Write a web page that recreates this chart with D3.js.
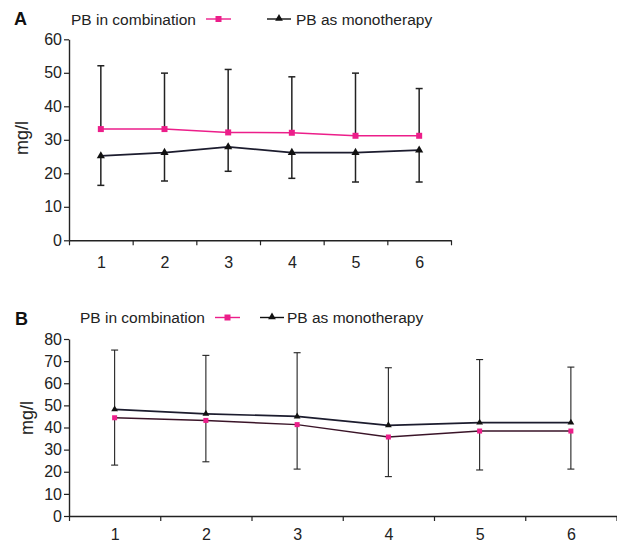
<!DOCTYPE html>
<html><head><meta charset="utf-8">
<script src="https://cdn.jsdelivr.net/npm/d3@7"></script>
<style>
html,body{margin:0;padding:0;background:#fff;}
svg{display:block;font-family:"Liberation Sans",Arial,Helvetica,sans-serif;}
</style></head>
<body><svg id="c" width="617" height="545"></svg>
<script>
// ---- data ----
const categories = [1, 2, 3, 4, 5, 6];
const seriesNames = ["PB in combination", "PB as monotherapy"];
// Panel A
const aCombination = [33.2, 33.2, 32.2, 32.1, 31.2, 31.2];
const aCombinationUpper = [52.1, 49.9, 51.0, 48.8, 49.9, 45.3];
const aMonotherapy = [25.2, 26.2, 27.9, 26.2, 26.2, 26.9];
const aMonotherapyLower = [16.4, 17.7, 20.6, 18.5, 17.4, 17.4];
const aYTicks = [0, 10, 20, 30, 40, 50, 60];
// Panel B
const bCombination = [44.4, 43.2, 41.3, 35.7, 38.4, 38.4];
const bCombinationLower = [23.0, 24.5, 21.2, 17.8, 20.8, 21.2];
const bMonotherapy = [48.2, 46.2, 45.0, 41.0, 42.2, 42.2];
const bMonotherapyUpper = [75.0, 72.6, 73.8, 67.0, 70.7, 67.3];
const bYTicks = [0, 10, 20, 30, 40, 50, 60, 70, 80];

const PINK = "#ec1e8a";
const DARK = "#1c1c2e";
const svg = d3.select("#c");

function panel(cfg) {
  const g = svg.append("g");
  const x = d3.scaleLinear().domain([0.5, 6.5]).range([cfg.x0, cfg.x1]);
  const y = d3.scaleLinear().domain([0, cfg.ymax]).range([cfg.yBottom, cfg.yTop]);

  // y axis
  const ya = g.append("g").attr("transform", `translate(${cfg.x0},0)`)
    .call(d3.axisLeft(y).tickValues(cfg.yTicks).tickSize(5).tickPadding(2).tickSizeOuter(0));
  ya.select(".domain").attr("stroke", "#222").attr("stroke-width", 1.4);
  ya.selectAll(".tick line").attr("stroke", "#222").attr("stroke-width", 1.2);
  ya.selectAll(".tick text").attr("font-size", cfg.fs).attr("fill", "#222")
    .attr("font-family", "Liberation Sans, Arial, sans-serif");

  // x axis: boundary ticks
  const bounds = d3.range(0.5, 6.51, 1);
  const xa = g.append("g").attr("transform", `translate(0,${cfg.yBottom})`)
    .call(d3.axisBottom(x).tickValues(bounds).tickSize(5).tickFormat("").tickSizeOuter(0));
  xa.select(".domain").attr("stroke", "#222").attr("stroke-width", 1.4);
  xa.selectAll(".tick line").attr("stroke", "#222").attr("stroke-width", 1.2);
  // x labels
  const xl = g.append("g").attr("transform", `translate(0,${cfg.yBottom})`)
    .call(d3.axisBottom(x).tickValues(categories).tickSize(0).tickPadding(cfg.xPad).tickFormat(d3.format("d")));
  xl.select(".domain").remove();
  xl.selectAll(".tick text").attr("font-size", cfg.fs).attr("fill", "#222")
    .attr("font-family", "Liberation Sans, Arial, sans-serif");

  // y label
  g.append("text").attr("transform", `translate(${cfg.ylabX},${cfg.ylabY}) rotate(-90)`)
    .attr("text-anchor", "middle").attr("font-size", 18).attr("fill", "#222").text("mg/l");

  // panel letter
  g.append("text").attr("x", cfg.letterX).attr("y", cfg.letterY).attr("font-weight", "bold")
    .attr("font-size", 18).attr("fill", "#111").text(cfg.letter);

  // error bars
  const cap = 3.5;
  function errBars(vals, ends) {
    const eg = g.append("g").attr("stroke", "#222").attr("stroke-width", cfg.ew);
    categories.forEach((c, i) => {
      const cx = x(c);
      eg.append("line").attr("x1", cx).attr("x2", cx).attr("y1", y(vals[i])).attr("y2", y(ends[i]));
      eg.append("line").attr("x1", cx - cap).attr("x2", cx + cap).attr("y1", y(ends[i])).attr("y2", y(ends[i]));
    });
  }
  errBars(cfg.upperBase, cfg.upper);
  errBars(cfg.lowerBase, cfg.lower);

  const line = d3.line().x((d, i) => x(categories[i])).y(d => y(d));
  g.append("path").datum(cfg.mono).attr("d", line).attr("fill", "none")
    .attr("stroke", DARK).attr("stroke-width", 1.7);
  g.append("path").datum(cfg.comb).attr("d", line).attr("fill", "none")
    .attr("stroke", cfg.combLine).attr("stroke-width", 1.5);

  const tri = d3.symbol().type(d3.symbolTriangle).size(cfg.ms * cfg.ms * 0.8);
  g.append("g").selectAll("path").data(cfg.mono).join("path")
    .attr("transform", (d, i) => `translate(${x(categories[i])},${y(d)})`)
    .attr("d", tri).attr("fill", "#111");
  g.append("g").selectAll("rect").data(cfg.comb).join("rect")
    .attr("x", (d, i) => x(categories[i]) - cfg.ms / 2).attr("y", d => y(d) - cfg.ms / 2)
    .attr("width", cfg.ms).attr("height", cfg.ms).attr("fill", PINK);

  // legend
  const L = cfg.legend;
  g.append("text").attr("x", L.t1).attr("y", L.y + 5.5).attr("font-size", L.fs).attr("fill", "#222").text(seriesNames[0]);
  g.append("line").attr("x1", L.l1a).attr("x2", L.l1b).attr("y1", L.y).attr("y2", L.y)
    .attr("stroke", PINK).attr("stroke-width", 1.4);
  g.append("rect").attr("x", (L.l1a + L.l1b) / 2 - 3).attr("y", L.y - 3).attr("width", 6).attr("height", 6).attr("fill", PINK);
  g.append("line").attr("x1", L.l2a).attr("x2", L.l2b).attr("y1", L.y).attr("y2", L.y)
    .attr("stroke", "#111").attr("stroke-width", 1.4);
  g.append("path").attr("transform", `translate(${(L.l2a + L.l2b) / 2},${L.y - 0.5})`)
    .attr("d", d3.symbol().type(d3.symbolTriangle).size(26)).attr("fill", "#111");
  g.append("text").attr("x", L.t2).attr("y", L.y + 5.5).attr("font-size", L.fs).attr("fill", "#222").text(seriesNames[1]);
}

panel({
  letter: "A", letterX: 14, letterY: 25,
  x0: 69, x1: 451, yTop: 39.3, yBottom: 240.3, ymax: 60, yTicks: aYTicks,
  fs: 16, xPad: 16, ylabX: 28, ylabY: 138, ew: 1.5, ms: 6,
  comb: aCombination, mono: aMonotherapy, combLine: PINK,
  upperBase: aCombination, upper: aCombinationUpper,
  lowerBase: aMonotherapy, lower: aMonotherapyLower,
  legend: { y: 19, fs: 15.5, t1: 71, l1a: 206, l1b: 231, l2a: 267, l2b: 291, t2: 296 }
});

panel({
  letter: "B", letterX: 15, letterY: 325,
  x0: 69, x1: 616.5, yTop: 339, yBottom: 516, ymax: 80, yTicks: bYTicks,
  fs: 16, xPad: 13, ylabX: 33, ylabY: 418, ew: 1.1, ms: 5,
  comb: bCombination, mono: bMonotherapy, combLine: "#3a1428",
  upperBase: bMonotherapy, upper: bMonotherapyUpper,
  lowerBase: bCombination, lower: bCombinationLower,
  legend: { y: 317.5, fs: 15.5, t1: 80, l1a: 215, l1b: 240, l2a: 260, l2b: 284, t2: 287 }
});
</script></body></html>
